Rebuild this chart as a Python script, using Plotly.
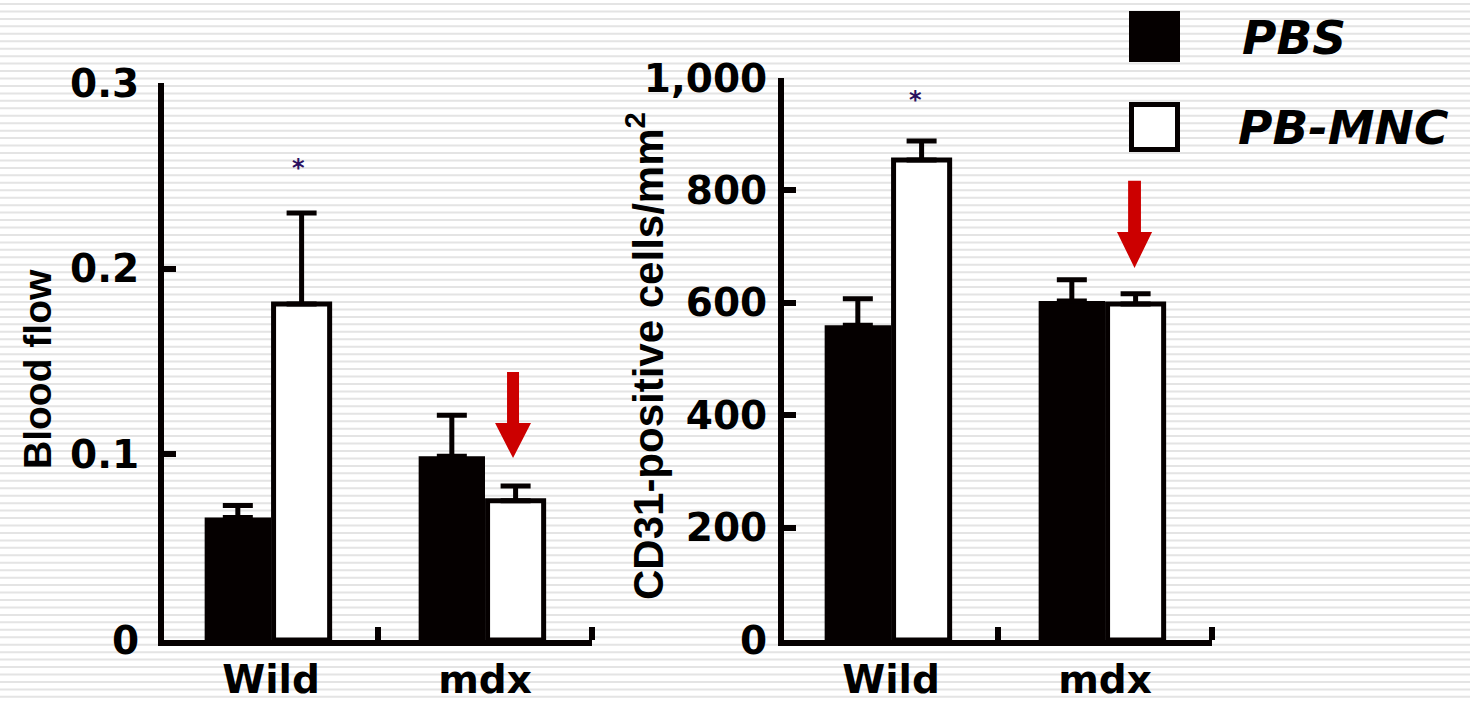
import plotly.graph_objects as go

# ---------------- data ----------------
categories = ["Wild", "mdx"]

bf_pbs = [0.066, 0.099]
bf_pbs_err = [0.0065, 0.022]
bf_mnc = [0.181, 0.075]
bf_mnc_err = [0.049, 0.008]

cd_pbs = [560, 603]
cd_pbs_err = [47, 38]
cd_mnc = [854, 598]
cd_mnc_err = [34, 18]

bf_tickvals = [0, 0.1, 0.2, 0.3]
bf_ticktext = ["0", "0.1", "0.2", "0.3"]
cd_tickvals = [0, 200, 400, 600, 800, 1000]
cd_ticktext = ["0", "200", "400", "600", "800", "1,000"]

series_names = ["PBS", "PB-MNC"]
sig_marker = "*"

# ---------------- styling ----------------
W, H = 1470, 702
BLACK = "#050000"
RED = "#cc0000"
TICK_FONT = dict(family="DejaVu Sans", size=39, color="black", weight="bold")
CAT_FONT = dict(family="DejaVu Sans", size=39, color="black", weight="bold")
TITLE_FONT = dict(family="Liberation Sans, Arial, sans-serif", color="black", weight="bold")

xpos = list(range(len(categories)))

def px_x(p):
    return p / W

def px_y(p):
    return 1 - p / H

fig = go.Figure()

def add_pair(pbs, pbs_err, mnc, mnc_err, xa, ya):
    fig.add_trace(go.Bar(
        x=xpos, y=pbs, offset=-0.31, width=0.31, name=series_names[0],
        marker=dict(color=BLACK, line=dict(width=0)),
        error_y=dict(type="data", symmetric=False, array=pbs_err,
                     arrayminus=[0] * len(pbs), color=BLACK, thickness=5, width=15),
        xaxis=xa, yaxis=ya, showlegend=False, hoverinfo="skip"))
    fig.add_trace(go.Bar(
        x=xpos, y=mnc, offset=0.012, width=0.262, name=series_names[1],
        marker=dict(color="white", line=dict(width=5, color=BLACK)),
        error_y=dict(type="data", symmetric=False, array=mnc_err,
                     arrayminus=[0] * len(mnc), color=BLACK, thickness=5, width=15),
        xaxis=xa, yaxis=ya, showlegend=False, hoverinfo="skip"))

add_pair(bf_pbs, bf_pbs_err, bf_mnc, bf_mnc_err, "x", "y")
add_pair(cd_pbs, cd_pbs_err, cd_mnc, cd_mnc_err, "x2", "y2")

ydom = [px_y(640), px_y(83)]
ydom2 = [px_y(640), px_y(78)]

def xaxis_cfg(domain, anchor):
    return dict(domain=domain, anchor=anchor, range=[-0.5, 1.5],
                tickvals=xpos, ticktext=categories, ticks="",
                tickfont=CAT_FONT, ticklabelstandoff=0, automargin=False,
                showline=True, linecolor=BLACK, linewidth=6,
                showgrid=False, zeroline=False, fixedrange=True,
                minor=dict(tickvals=[0.5, 1.5], ticks="inside", ticklen=13,
                           tickwidth=6, tickcolor=BLACK, showgrid=False))

def yaxis_cfg(domain, anchor, rng, tv, tt, standoff):
    return dict(domain=domain, anchor=anchor, range=rng,
                tickvals=tv, ticktext=tt, ticks="inside", ticklen=12,
                tickwidth=6, tickcolor=BLACK, tickfont=TICK_FONT,
                ticklabelstandoff=standoff, automargin=False,
                showline=True, linecolor=BLACK, linewidth=6,
                showgrid=False, zeroline=False, fixedrange=True)

fig.update_layout(
    width=W, height=H, autosize=False,
    margin=dict(l=0, r=0, t=0, b=0, pad=0, autoexpand=False),
    paper_bgcolor="white", plot_bgcolor="rgba(0,0,0,0)",
    barmode="overlay", showlegend=False,
    xaxis=xaxis_cfg([px_x(164), px_x(592)], "y"),
    yaxis=yaxis_cfg(ydom, "x", [0, 0.3], bf_tickvals, bf_ticktext, 11),
    xaxis2=xaxis_cfg([px_x(784), px_x(1212)], "y2"),
    yaxis2=yaxis_cfg(ydom2, "x2", [0, 1000], cd_tickvals, cd_ticktext, 3),
)

shapes = []

# striped background
stripe_path = []
yy = 3.0
while yy < H:
    y0, y1 = px_y(yy), px_y(yy + 2)
    stripe_path.append(f"M0,{y0:.5f} L1,{y0:.5f} L1,{y1:.5f} L0,{y1:.5f} Z")
    yy += 7.45
shapes.append(dict(type="path", xref="paper", yref="paper", path=" ".join(stripe_path),
                   fillcolor="#e4e4e4", line=dict(width=0), layer="below"))

# red arrows (pointing at the mdx PB-MNC bars)
def arrow(xref, yref, xc, hw_shaft, hw_head, y_top, y_base, y_tip):
    p = (f"M{xc-hw_shaft},{y_top} L{xc+hw_shaft},{y_top} L{xc+hw_shaft},{y_base} "
         f"L{xc+hw_head},{y_base} L{xc},{y_tip} L{xc-hw_head},{y_base} "
         f"L{xc-hw_shaft},{y_base} Z")
    return dict(type="path", xref=xref, yref=yref, path=p, fillcolor=RED,
                line=dict(width=0), layer="above")

shapes.append(arrow("x", "y", 1.131, 0.028, 0.084, 0.1443, 0.1169, 0.098))
shapes.append(arrow("x2", "y2", 1.138, 0.030, 0.082, 817, 726, 662))

# legend boxes
shapes.append(dict(type="rect", xref="paper", yref="paper",
                   x0=px_x(1129), x1=px_x(1180), y0=px_y(62), y1=px_y(11),
                   fillcolor=BLACK, line=dict(width=0)))
shapes.append(dict(type="rect", xref="paper", yref="paper",
                   x0=px_x(1131.5), x1=px_x(1177.5), y0=px_y(149.5), y1=px_y(104.5),
                   fillcolor="white", line=dict(width=5, color=BLACK)))

annotations = []
LEG_FONT = dict(family="DejaVu Sans", size=47, color="black", weight="bold", style="italic")
annotations.append(dict(xref="paper", yref="paper", x=px_x(1240), y=px_y(38),
                        text=series_names[0], showarrow=False, xanchor="left",
                        yanchor="middle", font=LEG_FONT))
annotations.append(dict(xref="paper", yref="paper", x=px_x(1236), y=px_y(128),
                        text=series_names[1], showarrow=False, xanchor="left",
                        yanchor="middle", font=LEG_FONT))

# axis titles
annotations.append(dict(xref="paper", yref="paper", x=px_x(37), y=px_y(369),
                        text="Blood flow", textangle=-90, showarrow=False,
                        xanchor="center", yanchor="middle",
                        font=dict(TITLE_FONT, size=39)))
annotations.append(dict(xref="paper", yref="paper", x=px_x(645), y=px_y(356),
                        text="CD31-positive cells/mm<sup>2</sup>", textangle=-90,
                        showarrow=False, xanchor="center", yanchor="middle",
                        font=dict(TITLE_FONT, size=42)))

# significance markers above Wild PB-MNC
annotations.append(dict(xref="x", yref="y", x=xpos[0] + 0.13,
                        y=bf_mnc[0] + bf_mnc_err[0] + 0.024, text=sig_marker,
                        showarrow=False, font=dict(family="DejaVu Sans", size=24,
                                                   color="#2a1060", weight="bold")))
annotations.append(dict(xref="x2", yref="y2", x=xpos[0] + 0.115,
                        y=cd_mnc[0] + cd_mnc_err[0] + 72, text=sig_marker,
                        showarrow=False, font=dict(family="DejaVu Sans", size=24,
                                                   color="#2a1060", weight="bold")))

fig.update_layout(shapes=shapes, annotations=annotations)

fig.write_html("out.html")
